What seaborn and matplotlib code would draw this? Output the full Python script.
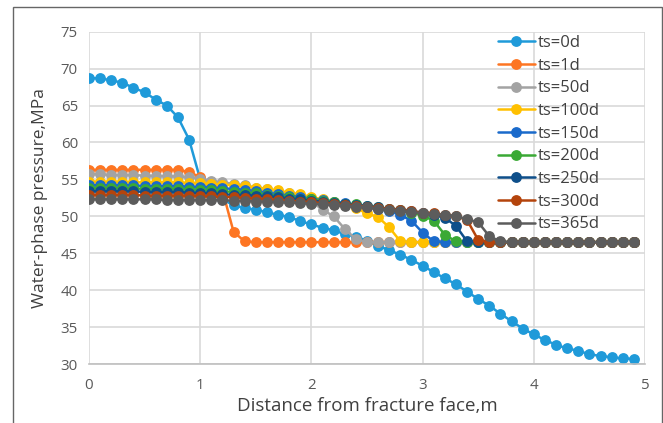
import matplotlib
matplotlib.use("Agg")
import matplotlib.pyplot as plt
import seaborn as sns
import pandas as pd
from matplotlib.patches import Rectangle

# Distance from the fracture face (m)
distance = [0.0, 0.1, 0.2, 0.3, 0.4, 0.5, 0.6, 0.7, 0.8, 0.9,
            1.0, 1.1, 1.2, 1.3, 1.4, 1.5, 1.6, 1.7, 1.8, 1.9,
            2.0, 2.1, 2.2, 2.3, 2.4, 2.5, 2.6, 2.7, 2.8, 2.9,
            3.0, 3.1, 3.2, 3.3, 3.4, 3.5, 3.6, 3.7, 3.8, 3.9,
            4.0, 4.1, 4.2, 4.3, 4.4, 4.5, 4.6, 4.7, 4.8, 4.9]

series_labels = ["ts=0d", "ts=1d", "ts=50d", "ts=100d", "ts=150d",
                 "ts=200d", "ts=250d", "ts=300d", "ts=365d"]

# Water-phase pressure (MPa) for each soaking time
p_0d = [68.7, 68.7, 68.4, 68.1, 67.4, 66.8, 65.8, 65.0, 63.4, 60.4,
        55.0, 53.6, 52.3, 51.5, 51.1, 50.9, 50.55, 50.2, 49.9, 49.35,
        48.9, 48.45, 48.1, 47.6, 47.25, 46.7, 46.0, 45.4, 44.8, 44.1,
        43.3, 42.45, 41.6, 40.8, 39.8, 38.8, 37.9, 36.8, 35.8, 34.8,
        34.0, 33.25, 32.6, 32.1, 31.8, 31.3, 31.1, 30.9, 30.75, 30.7]
p_1d = [56.3, 56.3, 56.3, 56.3, 56.3, 56.3, 56.3, 56.3, 56.3, 56.0,
        55.3, 54.5, 53.5, 47.9, 46.6, 46.5, 46.5, 46.5, 46.5, 46.5,
        46.5, 46.5, 46.5, 46.5, 46.5, 46.5, 46.5, 46.5, 46.5, 46.5,
        46.5, 46.5, 46.5, 46.5, 46.5, 46.5, 46.5, 46.5, 46.5, 46.5,
        46.5, 46.5, 46.5, 46.5, 46.5, 46.5, 46.5, 46.5, 46.5, 46.5]
p_50d = [55.7, 55.7, 55.6, 55.6, 55.6, 55.5, 55.5, 55.4, 55.4, 55.3,
         55.1, 54.8, 54.6, 54.4, 54.2, 53.9, 53.7, 53.4, 53.1, 52.6,
         52.0, 50.9, 50.0, 48.3, 46.9, 46.5, 46.5, 46.5, 46.5, 46.5,
         46.5, 46.5, 46.5, 46.5, 46.5, 46.5, 46.5, 46.5, 46.5, 46.5,
         46.5, 46.5, 46.5, 46.5, 46.5, 46.5, 46.5, 46.5, 46.5, 46.5]
p_100d = [54.7, 54.7, 54.7, 54.7, 54.6, 54.6, 54.6, 54.6, 54.6, 54.5,
          54.5, 54.4, 54.3, 54.2, 54.1, 53.9, 53.7, 53.5, 53.2, 53.0,
          52.6, 52.3, 52.0, 51.6, 51.1, 50.4, 49.9, 48.5, 46.6, 46.5,
          46.5, 46.5, 46.5, 46.5, 46.5, 46.5, 46.5, 46.5, 46.5, 46.5,
          46.5, 46.5, 46.5, 46.5, 46.5, 46.5, 46.5, 46.5, 46.5, 46.5]
p_150d = [54.2, 54.2, 54.2, 54.2, 54.2, 54.1, 54.1, 54.1, 54.1, 54.0,
          54.0, 53.9, 53.8, 53.7, 53.6, 53.4, 53.2, 53.0, 52.8, 52.6,
          52.4, 52.2, 52.0, 51.8, 51.5, 51.3, 51.0, 50.7, 50.2, 49.4,
          47.8, 46.6, 46.5, 46.5, 46.5, 46.5, 46.5, 46.5, 46.5, 46.5,
          46.5, 46.5, 46.5, 46.5, 46.5, 46.5, 46.5, 46.5, 46.5, 46.5]
p_200d = [53.8, 53.8, 53.8, 53.8, 53.8, 53.7, 53.7, 53.7, 53.7, 53.6,
          53.6, 53.5, 53.4, 53.3, 53.2, 53.1, 52.9, 52.8, 52.6, 52.4,
          52.3, 52.1, 51.9, 51.7, 51.6, 51.4, 51.2, 51.0, 50.8, 50.5,
          50.1, 49.4, 47.5, 46.6, 46.5, 46.5, 46.5, 46.5, 46.5, 46.5,
          46.5, 46.5, 46.5, 46.5, 46.5, 46.5, 46.5, 46.5, 46.5, 46.5]
p_250d = [53.4, 53.4, 53.4, 53.4, 53.4, 53.3, 53.3, 53.3, 53.3, 53.2,
          53.2, 53.1, 53.0, 52.9, 52.9, 52.8, 52.7, 52.6, 52.4, 52.3,
          52.1, 52.0, 51.8, 51.7, 51.5, 51.4, 51.2, 51.0, 50.9, 50.7,
          50.5, 50.2, 49.8, 48.7, 46.6, 46.5, 46.5, 46.5, 46.5, 46.5,
          46.5, 46.5, 46.5, 46.5, 46.5, 46.5, 46.5, 46.5, 46.5, 46.5]
p_300d = [52.9, 52.9, 52.9, 52.9, 52.9, 52.8, 52.8, 52.8, 52.8, 52.8,
          52.7, 52.7, 52.6, 52.6, 52.5, 52.4, 52.3, 52.2, 52.1, 52.0,
          51.9, 51.8, 51.7, 51.5, 51.4, 51.3, 51.1, 51.0, 50.8, 50.7,
          50.5, 50.4, 50.2, 50.0, 49.5, 46.8, 46.5, 46.5, 46.5, 46.5,
          46.5, 46.5, 46.5, 46.5, 46.5, 46.5, 46.5, 46.5, 46.5, 46.5]
p_365d = [52.3, 52.3, 52.3, 52.3, 52.3, 52.3, 52.3, 52.2, 52.2, 52.2,
          52.2, 52.2, 52.2, 52.1, 52.1, 52.0, 52.0, 51.9, 51.9, 51.8,
          51.7, 51.6, 51.5, 51.4, 51.3, 51.2, 51.0, 50.9, 50.7, 50.6,
          50.4, 50.3, 50.2, 50.05, 49.6, 49.2, 47.3, 46.6, 46.5, 46.5,
          46.5, 46.5, 46.5, 46.5, 46.5, 46.5, 46.5, 46.5, 46.5, 46.5]

x_ticks = [0, 1, 2, 3, 4, 5]
y_ticks = [30, 35, 40, 45, 50, 55, 60, 65, 70, 75]

series_values = [p_0d, p_1d, p_50d, p_100d, p_150d,
                 p_200d, p_250d, p_300d, p_365d]
colors = ["#1f9ad9", "#fd7522", "#a3a3a3", "#ffc000", "#1a6acb",
          "#3aa935", "#0e4f8a", "#b4440c", "#5c5c5c"]

frames = []
for label, vals in zip(series_labels, series_values):
    frames.append(pd.DataFrame({"distance": distance, "pressure": vals,
                                "series": label}))
df = pd.concat(frames, ignore_index=True)

sns.set_theme(style="whitegrid")
plt.rcParams["font.family"] = ["Open Sans", "DejaVu Sans"]

fig = plt.figure(figsize=(6.63, 4.23), dpi=100)
ax = fig.add_axes([89 / 663, 1 - 364 / 423, 556 / 663, 332.3 / 423])

text_color = "#595959"
for label, color in zip(series_labels, colors):
    sub = df[df["series"] == label]
    sns.lineplot(data=sub, x="distance", y="pressure", ax=ax, color=color,
                 marker="o", markersize=7.8, markeredgewidth=0,
                 linewidth=1.8, label=label, sort=False)

ax.set_xlim(0, 5)
ax.set_ylim(30, 75)
ax.set_xticks(x_ticks)
ax.set_yticks(y_ticks)
ax.grid(True, color="#d9d9d9", linewidth=1.2)
ax.set_facecolor("white")
for side in ["left", "top", "right"]:
    ax.spines[side].set_visible(False)
ax.spines["bottom"].set_color("#bfbfbf")
ax.spines["bottom"].set_linewidth(1.2)
ax.tick_params(axis="both", length=0, labelsize=10.8, colors=text_color,
               pad=8)
ax.tick_params(axis="x", pad=10)
ax.set_xlabel("Distance from fracture face,m", fontsize=13.5,
              color="#404040", labelpad=3)
ax.set_ylabel("Water-phase pressure,MPa", fontsize=12.5,
              color="#404040", labelpad=9)

leg = ax.legend(loc="upper left", bbox_to_anchor=(0.7356, 0.99),
                frameon=False, fontsize=12, handlelength=2.2,
                handletextpad=0.2, labelspacing=0.4, borderpad=0,
                borderaxespad=0)
for t in leg.get_texts():
    t.set_color("#404040")

# thin outer frame around the whole figure
fig.patches.append(Rectangle((13 / 663, -0.02), 649 / 663, 1.02 - 7.5 / 423,
                             transform=fig.transFigure, fill=False,
                             edgecolor="#666666", linewidth=1.0))

fig.savefig("out.png", dpi=100, facecolor="white")
